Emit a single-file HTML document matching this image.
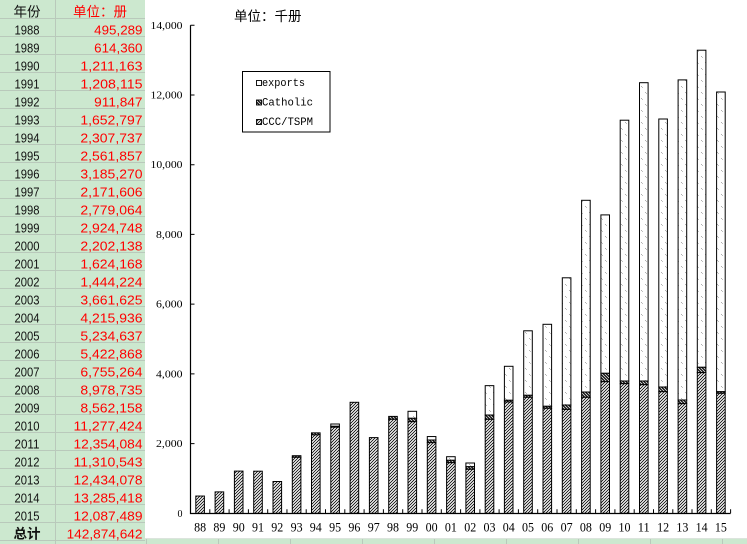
<!DOCTYPE html>
<html><head><meta charset="utf-8"><style>
html,body{margin:0;padding:0;background:#fff;}
svg{display:block;}
.t{font-family:"Liberation Sans","Noto Sans CJK SC",sans-serif;font-size:13px;}
.y{fill:#111;}
.r{fill:#f00;}
.cj{font-family:"Liberation Sans","Noto Sans CJK SC",sans-serif;font-size:13.5px;}
.ax{font-family:"Liberation Serif",serif;font-size:10px;fill:#000;}
.xl{font-family:"Liberation Serif",serif;font-size:12.5px;fill:#000;}
.lg{font-family:"Liberation Mono",monospace;font-size:11px;fill:#000;}
.c{fill:url(#pc);stroke:#000;stroke-width:1;}
.k{fill:url(#pk);stroke:#000;stroke-width:1;}
.e{fill:url(#pe);stroke:#000;stroke-width:1;}
</style></head><body>
<svg width="747" height="544" viewBox="0 0 747 544" xmlns="http://www.w3.org/2000/svg">
<defs>
<pattern id="pc" patternUnits="userSpaceOnUse" width="3" height="3">
<rect width="3" height="3" fill="#fff"/>
<path d="M0,3 L3,0 M-1,1 L1,-1 M2,4 L4,2" stroke="#000" stroke-width="0.8"/>
</pattern>
<pattern id="pk" patternUnits="userSpaceOnUse" width="3" height="3">
<rect width="3" height="3" fill="#111"/>
<path d="M0,0 L3,3 M-1,2 L1,4 M2,-1 L4,1" stroke="#fff" stroke-width="0.7"/>
</pattern>
<pattern id="pe" patternUnits="userSpaceOnUse" width="8" height="12">
<rect width="8" height="12" fill="#fff"/>
<rect x="1" y="2" width="1" height="1" fill="#b0b0b0"/>
<rect x="2" y="3" width="1" height="1" fill="#c0c0c0"/>
<rect x="5" y="8" width="1" height="1" fill="#b0b0b0"/>
<rect x="6" y="9" width="1" height="1" fill="#c0c0c0"/>
</pattern>
</defs>

<!-- spreadsheet background -->
<rect x="0" y="0" width="145" height="544" fill="#cce8cf"/>
<rect x="145" y="538.5" width="602" height="6" fill="#cce8cf"/>
<path d="M0,18.5H145M0,36.5H145M0,54.5H145M0,72.5H145M0,90.5H145M0,108.5H145M0,126.5H145M0,144.5H145M0,162.5H145M0,180.5H145M0,198.5H145M0,216.5H145M0,234.5H145M0,252.5H145M0,270.5H145M0,288.5H145M0,306.5H145M0,324.5H145M0,342.5H145M0,360.5H145M0,378.5H145M0,396.5H145M0,414.5H145M0,432.5H145M0,450.5H145M0,468.5H145M0,486.5H145M0,504.5H145M0,522.5H145M0,540.5H145M55.5,0V544M145,538.5H747M146.5,538.5V544M218.5,538.5V544M290.5,538.5V544M362.5,538.5V544M434.5,538.5V544M506.5,538.5V544M578.5,538.5V544M650.5,538.5V544M722.5,538.5V544" stroke="#b9c9bb" stroke-width="1" fill="none"/>
<rect x="145" y="0" width="602" height="538.5" fill="#fff"/>

<!-- table header -->
<text class="cj" x="27" y="16.3" text-anchor="middle" fill="#111">年份</text>
<text class="cj" x="100" y="16.3" text-anchor="middle" fill="#f00">单位：册</text>

<!-- years -->
<g class="t y" text-anchor="middle">
<text x="27" y="34.3" textLength="25" lengthAdjust="spacingAndGlyphs">1988</text>
<text x="27" y="52.3" textLength="25" lengthAdjust="spacingAndGlyphs">1989</text>
<text x="27" y="70.3" textLength="25" lengthAdjust="spacingAndGlyphs">1990</text>
<text x="27" y="88.3" textLength="25" lengthAdjust="spacingAndGlyphs">1991</text>
<text x="27" y="106.3" textLength="25" lengthAdjust="spacingAndGlyphs">1992</text>
<text x="27" y="124.3" textLength="25" lengthAdjust="spacingAndGlyphs">1993</text>
<text x="27" y="142.3" textLength="25" lengthAdjust="spacingAndGlyphs">1994</text>
<text x="27" y="160.3" textLength="25" lengthAdjust="spacingAndGlyphs">1995</text>
<text x="27" y="178.3" textLength="25" lengthAdjust="spacingAndGlyphs">1996</text>
<text x="27" y="196.3" textLength="25" lengthAdjust="spacingAndGlyphs">1997</text>
<text x="27" y="214.3" textLength="25" lengthAdjust="spacingAndGlyphs">1998</text>
<text x="27" y="232.3" textLength="25" lengthAdjust="spacingAndGlyphs">1999</text>
<text x="27" y="250.3" textLength="25" lengthAdjust="spacingAndGlyphs">2000</text>
<text x="27" y="268.3" textLength="25" lengthAdjust="spacingAndGlyphs">2001</text>
<text x="27" y="286.3" textLength="25" lengthAdjust="spacingAndGlyphs">2002</text>
<text x="27" y="304.3" textLength="25" lengthAdjust="spacingAndGlyphs">2003</text>
<text x="27" y="322.3" textLength="25" lengthAdjust="spacingAndGlyphs">2004</text>
<text x="27" y="340.3" textLength="25" lengthAdjust="spacingAndGlyphs">2005</text>
<text x="27" y="358.3" textLength="25" lengthAdjust="spacingAndGlyphs">2006</text>
<text x="27" y="376.3" textLength="25" lengthAdjust="spacingAndGlyphs">2007</text>
<text x="27" y="394.3" textLength="25" lengthAdjust="spacingAndGlyphs">2008</text>
<text x="27" y="412.3" textLength="25" lengthAdjust="spacingAndGlyphs">2009</text>
<text x="27" y="430.3" textLength="25" lengthAdjust="spacingAndGlyphs">2010</text>
<text x="27" y="448.3" textLength="25" lengthAdjust="spacingAndGlyphs">2011</text>
<text x="27" y="466.3" textLength="25" lengthAdjust="spacingAndGlyphs">2012</text>
<text x="27" y="484.3" textLength="25" lengthAdjust="spacingAndGlyphs">2013</text>
<text x="27" y="502.3" textLength="25" lengthAdjust="spacingAndGlyphs">2014</text>
<text x="27" y="520.3" textLength="25" lengthAdjust="spacingAndGlyphs">2015</text>
</g>
<text class="cj" x="27" y="538.3" text-anchor="middle" fill="#111" font-weight="bold">总计</text>

<!-- values -->
<g class="t r" text-anchor="end">
<text x="142.5" y="34.3" textLength="48.3" lengthAdjust="spacingAndGlyphs">495,289</text>
<text x="142.5" y="52.3" textLength="48.3" lengthAdjust="spacingAndGlyphs">614,360</text>
<text x="142.5" y="70.3" textLength="62.1" lengthAdjust="spacingAndGlyphs">1,211,163</text>
<text x="142.5" y="88.3" textLength="62.1" lengthAdjust="spacingAndGlyphs">1,208,115</text>
<text x="142.5" y="106.3" textLength="48.3" lengthAdjust="spacingAndGlyphs">911,847</text>
<text x="142.5" y="124.3" textLength="62.1" lengthAdjust="spacingAndGlyphs">1,652,797</text>
<text x="142.5" y="142.3" textLength="62.1" lengthAdjust="spacingAndGlyphs">2,307,737</text>
<text x="142.5" y="160.3" textLength="62.1" lengthAdjust="spacingAndGlyphs">2,561,857</text>
<text x="142.5" y="178.3" textLength="62.1" lengthAdjust="spacingAndGlyphs">3,185,270</text>
<text x="142.5" y="196.3" textLength="62.1" lengthAdjust="spacingAndGlyphs">2,171,606</text>
<text x="142.5" y="214.3" textLength="62.1" lengthAdjust="spacingAndGlyphs">2,779,064</text>
<text x="142.5" y="232.3" textLength="62.1" lengthAdjust="spacingAndGlyphs">2,924,748</text>
<text x="142.5" y="250.3" textLength="62.1" lengthAdjust="spacingAndGlyphs">2,202,138</text>
<text x="142.5" y="268.3" textLength="62.1" lengthAdjust="spacingAndGlyphs">1,624,168</text>
<text x="142.5" y="286.3" textLength="62.1" lengthAdjust="spacingAndGlyphs">1,444,224</text>
<text x="142.5" y="304.3" textLength="62.1" lengthAdjust="spacingAndGlyphs">3,661,625</text>
<text x="142.5" y="322.3" textLength="62.1" lengthAdjust="spacingAndGlyphs">4,215,936</text>
<text x="142.5" y="340.3" textLength="62.1" lengthAdjust="spacingAndGlyphs">5,234,637</text>
<text x="142.5" y="358.3" textLength="62.1" lengthAdjust="spacingAndGlyphs">5,422,868</text>
<text x="142.5" y="376.3" textLength="62.1" lengthAdjust="spacingAndGlyphs">6,755,264</text>
<text x="142.5" y="394.3" textLength="62.1" lengthAdjust="spacingAndGlyphs">8,978,735</text>
<text x="142.5" y="412.3" textLength="62.1" lengthAdjust="spacingAndGlyphs">8,562,158</text>
<text x="142.5" y="430.3" textLength="69" lengthAdjust="spacingAndGlyphs">11,277,424</text>
<text x="142.5" y="448.3" textLength="69" lengthAdjust="spacingAndGlyphs">12,354,084</text>
<text x="142.5" y="466.3" textLength="69" lengthAdjust="spacingAndGlyphs">11,310,543</text>
<text x="142.5" y="484.3" textLength="69" lengthAdjust="spacingAndGlyphs">12,434,078</text>
<text x="142.5" y="502.3" textLength="69" lengthAdjust="spacingAndGlyphs">13,285,418</text>
<text x="142.5" y="520.3" textLength="69" lengthAdjust="spacingAndGlyphs">12,087,489</text>
<text x="142.5" y="538.3" textLength="75.9" lengthAdjust="spacingAndGlyphs">142,874,642</text>
</g>

<!-- chart title -->
<text class="cj" x="234" y="21" fill="#000" font-size="13">单位：千册</text>

<!-- y labels -->
<g class="ax" text-anchor="end">
<text x="182.5" y="28.8" textLength="32" lengthAdjust="spacingAndGlyphs">14,000</text>
<text x="182.5" y="98.5" textLength="32" lengthAdjust="spacingAndGlyphs">12,000</text>
<text x="182.5" y="168.2" textLength="32" lengthAdjust="spacingAndGlyphs">10,000</text>
<text x="182.5" y="237.9" textLength="26.5" lengthAdjust="spacingAndGlyphs">8,000</text>
<text x="182.5" y="307.6" textLength="26.5" lengthAdjust="spacingAndGlyphs">6,000</text>
<text x="182.5" y="377.4" textLength="26.5" lengthAdjust="spacingAndGlyphs">4,000</text>
<text x="182.5" y="447.1" textLength="26.5" lengthAdjust="spacingAndGlyphs">2,000</text>
<text x="182.5" y="516.8">0</text>
</g>

<!-- bars -->
<g>
<rect class="c" x="195.8" y="496.05" width="8.6" height="17.25"/>
<rect class="c" x="215.1" y="491.9" width="8.6" height="21.4"/>
<rect class="c" x="234.4" y="471.1" width="8.6" height="42.2"/>
<rect class="c" x="253.7" y="471.2" width="8.6" height="42.1"/>
<rect class="c" x="273.0" y="481.5" width="8.6" height="31.8"/>
<rect class="k" x="292.3" y="455.7" width="8.6" height="1.6"/><rect class="c" x="292.3" y="457.3" width="8.6" height="56"/>
<rect class="k" x="311.5" y="432.85" width="8.6" height="2.05"/><rect class="c" x="311.5" y="434.9" width="8.6" height="78.4"/>
<rect class="e" x="330.8" y="424.0" width="8.6" height="2.3"/><rect class="k" x="330.8" y="426.3" width="8.6" height="0.9"/><rect class="c" x="330.8" y="427.2" width="8.6" height="86.1"/>
<rect class="c" x="350.1" y="402.3" width="8.6" height="111"/>
<rect class="c" x="369.4" y="437.6" width="8.6" height="75.7"/>
<rect class="k" x="388.7" y="416.4" width="8.6" height="2.9"/><rect class="c" x="388.7" y="419.3" width="8.6" height="94"/>
<rect class="e" x="408.0" y="411.3" width="8.6" height="7"/><rect class="k" x="408.0" y="418.3" width="8.6" height="3.4"/><rect class="c" x="408.0" y="421.7" width="8.6" height="91.6"/>
<rect class="e" x="427.3" y="436.55" width="8.6" height="3.45"/><rect class="k" x="427.3" y="440.0" width="8.6" height="2.7"/><rect class="c" x="427.3" y="442.7" width="8.6" height="70.6"/>
<rect class="e" x="446.6" y="456.7" width="8.6" height="3.6"/><rect class="k" x="446.6" y="460.3" width="8.6" height="2.4"/><rect class="c" x="446.6" y="462.7" width="8.6" height="50.6"/>
<rect class="e" x="465.9" y="463.0" width="8.6" height="3.7"/><rect class="k" x="465.9" y="466.7" width="8.6" height="2.6"/><rect class="c" x="465.9" y="469.3" width="8.6" height="44"/>
<rect class="e" x="485.2" y="385.65" width="8.6" height="29.35"/><rect class="k" x="485.2" y="415.0" width="8.6" height="4.3"/><rect class="c" x="485.2" y="419.3" width="8.6" height="94"/>
<rect class="e" x="504.4" y="366.3" width="8.6" height="34"/><rect class="k" x="504.4" y="400.3" width="8.6" height="1.7"/><rect class="c" x="504.4" y="402.0" width="8.6" height="111.3"/>
<rect class="e" x="523.7" y="330.8" width="8.6" height="64.5"/><rect class="k" x="523.7" y="395.3" width="8.6" height="2"/><rect class="c" x="523.7" y="397.3" width="8.6" height="116"/>
<rect class="e" x="543.0" y="324.3" width="8.6" height="82"/><rect class="k" x="543.0" y="406.3" width="8.6" height="2"/><rect class="c" x="543.0" y="408.3" width="8.6" height="105"/>
<rect class="e" x="562.3" y="277.8" width="8.6" height="127.2"/><rect class="k" x="562.3" y="405.0" width="8.6" height="4.4"/><rect class="c" x="562.3" y="409.4" width="8.6" height="103.9"/>
<rect class="e" x="581.6" y="200.3" width="8.6" height="191.7"/><rect class="k" x="581.6" y="392.0" width="8.6" height="5.3"/><rect class="c" x="581.6" y="397.3" width="8.6" height="116"/>
<rect class="e" x="600.9" y="214.9" width="8.6" height="158.4"/><rect class="k" x="600.9" y="373.3" width="8.6" height="8.4"/><rect class="c" x="600.9" y="381.7" width="8.6" height="131.6"/>
<rect class="e" x="620.2" y="120.2" width="8.6" height="260.8"/><rect class="k" x="620.2" y="381.0" width="8.6" height="2.7"/><rect class="c" x="620.2" y="383.7" width="8.6" height="129.6"/>
<rect class="e" x="639.5" y="82.7" width="8.6" height="298.3"/><rect class="k" x="639.5" y="381.0" width="8.6" height="3.7"/><rect class="c" x="639.5" y="384.7" width="8.6" height="128.6"/>
<rect class="e" x="658.8" y="119.0" width="8.6" height="268"/><rect class="k" x="658.8" y="387.0" width="8.6" height="4.7"/><rect class="c" x="658.8" y="391.7" width="8.6" height="121.6"/>
<rect class="e" x="678.1" y="79.9" width="8.6" height="320.1"/><rect class="k" x="678.1" y="400.0" width="8.6" height="3.7"/><rect class="c" x="678.1" y="403.7" width="8.6" height="109.6"/>
<rect class="e" x="697.3" y="50.2" width="8.6" height="317.1"/><rect class="k" x="697.3" y="367.3" width="8.6" height="5.35"/><rect class="c" x="697.3" y="372.65" width="8.6" height="140.65"/>
<rect class="e" x="716.6" y="92.0" width="8.6" height="299.7"/><rect class="k" x="716.6" y="391.7" width="8.6" height="1.6"/><rect class="c" x="716.6" y="393.3" width="8.6" height="120"/>
</g>

<!-- axes -->
<path d="M190.5,25.3V513.5H730.6" stroke="#000" stroke-width="1.2" fill="none"/>
<path d="M190.5,25.3h4M190.5,95h4M190.5,164.7h4M190.5,234.4h4M190.5,304.1h4M190.5,373.9h4M190.5,443.6h4
M209.8,513.3v-4M229.1,513.3v-4M248.4,513.3v-4M267.7,513.3v-4M286.95,513.3v-4M306.2,513.3v-4M325.5,513.3v-4M344.8,513.3v-4M364.1,513.3v-4M383.4,513.3v-4M402.7,513.3v-4M422,513.3v-4M441.3,513.3v-4M460.6,513.3v-4M479.9,513.3v-4M499.1,513.3v-4M518.4,513.3v-4M537.7,513.3v-4M557,513.3v-4M576.3,513.3v-4M595.6,513.3v-4M614.9,513.3v-4M634.2,513.3v-4M653.5,513.3v-4M672.8,513.3v-4M692,513.3v-4M711.3,513.3v-4M730.6,513.3v-4" stroke="#000" stroke-width="1" fill="none"/>

<!-- x labels -->
<g class="xl" text-anchor="middle">
<text x="200.1" y="531.7" textLength="12" lengthAdjust="spacingAndGlyphs">88</text>
<text x="219.4" y="531.7" textLength="12" lengthAdjust="spacingAndGlyphs">89</text>
<text x="238.7" y="531.7" textLength="12" lengthAdjust="spacingAndGlyphs">90</text>
<text x="258.0" y="531.7" textLength="12" lengthAdjust="spacingAndGlyphs">91</text>
<text x="277.3" y="531.7" textLength="12" lengthAdjust="spacingAndGlyphs">92</text>
<text x="296.6" y="531.7" textLength="12" lengthAdjust="spacingAndGlyphs">93</text>
<text x="315.8" y="531.7" textLength="12" lengthAdjust="spacingAndGlyphs">94</text>
<text x="335.1" y="531.7" textLength="12" lengthAdjust="spacingAndGlyphs">95</text>
<text x="354.4" y="531.7" textLength="12" lengthAdjust="spacingAndGlyphs">96</text>
<text x="373.7" y="531.7" textLength="12" lengthAdjust="spacingAndGlyphs">97</text>
<text x="393.0" y="531.7" textLength="12" lengthAdjust="spacingAndGlyphs">98</text>
<text x="412.3" y="531.7" textLength="12" lengthAdjust="spacingAndGlyphs">99</text>
<text x="431.6" y="531.7" textLength="12" lengthAdjust="spacingAndGlyphs">00</text>
<text x="450.9" y="531.7" textLength="12" lengthAdjust="spacingAndGlyphs">01</text>
<text x="470.2" y="531.7" textLength="12" lengthAdjust="spacingAndGlyphs">02</text>
<text x="489.5" y="531.7" textLength="12" lengthAdjust="spacingAndGlyphs">03</text>
<text x="508.7" y="531.7" textLength="12" lengthAdjust="spacingAndGlyphs">04</text>
<text x="528.0" y="531.7" textLength="12" lengthAdjust="spacingAndGlyphs">05</text>
<text x="547.3" y="531.7" textLength="12" lengthAdjust="spacingAndGlyphs">06</text>
<text x="566.6" y="531.7" textLength="12" lengthAdjust="spacingAndGlyphs">07</text>
<text x="585.9" y="531.7" textLength="12" lengthAdjust="spacingAndGlyphs">08</text>
<text x="605.2" y="531.7" textLength="12" lengthAdjust="spacingAndGlyphs">09</text>
<text x="624.5" y="531.7" textLength="12" lengthAdjust="spacingAndGlyphs">10</text>
<text x="643.8" y="531.7" textLength="12" lengthAdjust="spacingAndGlyphs">11</text>
<text x="663.1" y="531.7" textLength="12" lengthAdjust="spacingAndGlyphs">12</text>
<text x="682.4" y="531.7" textLength="12" lengthAdjust="spacingAndGlyphs">13</text>
<text x="701.6" y="531.7" textLength="12" lengthAdjust="spacingAndGlyphs">14</text>
<text x="720.9" y="531.7" textLength="12" lengthAdjust="spacingAndGlyphs">15</text>
</g>

<!-- legend -->
<rect x="242.5" y="71.5" width="87.5" height="60.5" fill="#fff" stroke="#000" stroke-width="1"/>
<rect x="256.5" y="80.5" width="5" height="5" fill="#fff" stroke="#000" stroke-width="0.9"/>
<rect x="256.5" y="100" width="5" height="5" fill="url(#pk)" stroke="#000" stroke-width="0.9"/>
<rect x="256.5" y="119.5" width="5" height="5" fill="url(#pc)" stroke="#000" stroke-width="0.9"/>
<text class="lg" x="262" y="86" textLength="43" lengthAdjust="spacingAndGlyphs">exports</text>
<text class="lg" x="262" y="105.7" textLength="51" lengthAdjust="spacingAndGlyphs">Catholic</text>
<text class="lg" x="262" y="125.2" textLength="51" lengthAdjust="spacingAndGlyphs">CCC/TSPM</text>
</svg>
</body></html>
